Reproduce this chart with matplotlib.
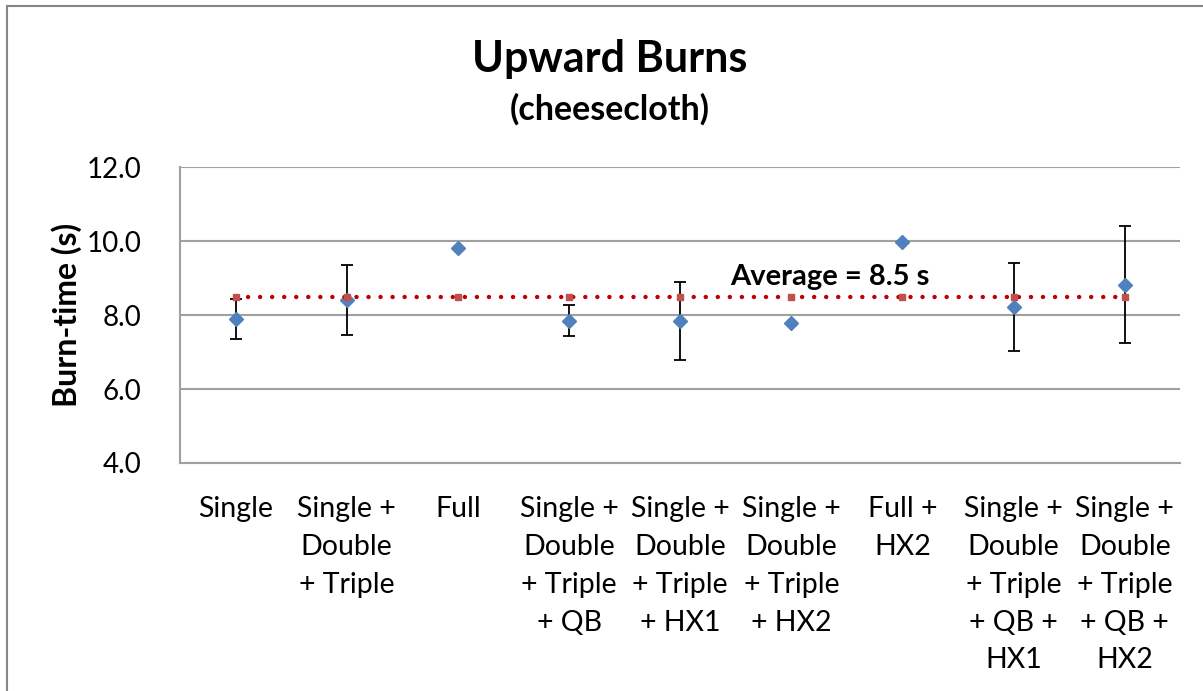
"""Upward burns on cheesecloth: burn-time per configuration with average line."""

import numpy as np
import matplotlib
matplotlib.use("Agg")
import matplotlib.pyplot as plt
from matplotlib.patches import Rectangle

plt.rcParams["font.family"] = ["Lato", "DejaVu Sans"]

# Data
categories = [
    "Single",
    "Single +\nDouble\n+ Triple",
    "Full",
    "Single +\nDouble\n+ Triple\n+ QB",
    "Single +\nDouble\n+ Triple\n+ HX1",
    "Single +\nDouble\n+ Triple\n+ HX2",
    "Full +\nHX2",
    "Single +\nDouble\n+ Triple\n+ QB +\nHX1",
    "Single +\nDouble\n+ Triple\n+ QB +\nHX2",
]
burn_time = [7.89, 8.41, 9.81, 7.85, 7.84, 7.79, 9.97, 8.23, 8.82]
burn_err = [0.54, 0.94, np.nan, 0.42, 1.06, np.nan, np.nan, 1.19, 1.58]
average = 8.5
yticks = [4.0, 6.0, 8.0, 10.0, 12.0]

x = np.arange(len(categories))
has_err = ~np.isnan(burn_err)

fig = plt.figure(figsize=(12.03, 6.91), dpi=100)
ax = fig.add_axes([0.1496, 0.33, 0.8316, 0.428])

# Outer chart frame (runs off the bottom and right of the picture)
fig.patches.append(Rectangle((0.0055, -0.05), 1.1, 1.0413, transform=fig.transFigure,
                             fill=False, edgecolor="#868686", linewidth=1.5))

# Error bars behind the markers
ax.errorbar(x[has_err], np.array(burn_time)[has_err], yerr=np.array(burn_err)[has_err],
            fmt="none", ecolor="black", elinewidth=1.3, capsize=4.3, capthick=1.3, zorder=2)
ax.plot(x, burn_time, "D", color="#4F81BD", markersize=7.5, zorder=3)

# Average line
ax.plot(x, [average] * len(x), color="#C00000", linewidth=3.2,
        linestyle=(0, (0.01, 2.7)), dash_capstyle="round", zorder=4)
ax.plot(x, [average] * len(x), "s", color="#C0504D", markersize=4.8, zorder=5)
ax.text(5.35, 9.03, "Average = %.1f s" % average, fontsize=21, fontweight="bold",
        ha="center", va="center", zorder=6)

ax.set_xlim(-0.5, len(x) - 0.5)
ax.set_ylim(4.0, 12.0)
ax.set_yticks(yticks)
ax.set_yticklabels(["%.1f" % v for v in yticks], fontsize=20)
ax.set_xticks(x)
ax.set_xticklabels(categories, fontsize=20.5, linespacing=1.56, va="top")
ax.tick_params(axis="both", length=0)
ax.tick_params(axis="x", pad=24)
ax.tick_params(axis="y", pad=28)

ax.grid(axis="y", color="#A0A0A0", linewidth=1.5)
ax.set_axisbelow(True)
for side in ["top", "right"]:
    ax.spines[side].set_visible(False)
for side in ["left", "bottom"]:
    ax.spines[side].set_color("#A0A0A0")
    ax.spines[side].set_linewidth(1.5)

ax.set_ylabel("Burn-time (s)", fontsize=23, fontweight="bold", labelpad=3)

fig.text(0.5068, 0.915, "Upward Burns", fontsize=31, fontweight="bold", ha="center", va="center")
fig.text(0.5068, 0.842, "(cheesecloth)", fontsize=24.5, fontweight="bold", ha="center", va="center")

fig.savefig("out.png", dpi=100)
